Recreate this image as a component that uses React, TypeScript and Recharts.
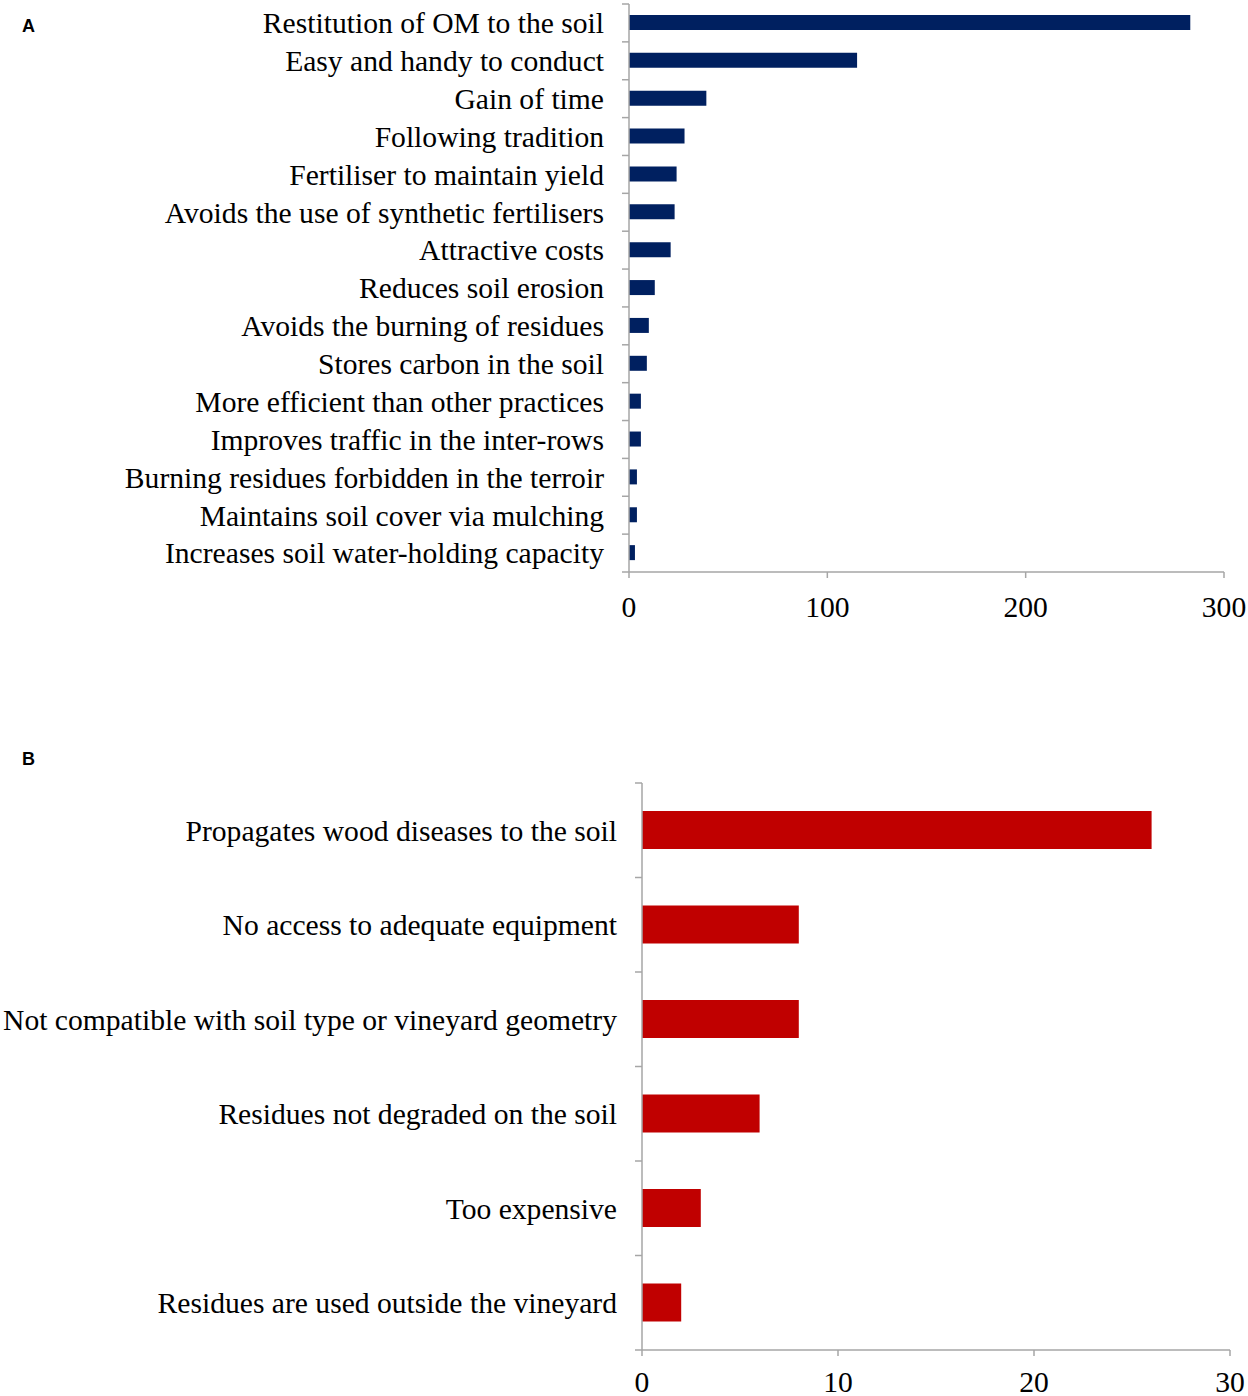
import React from "react";
import { Bar, BarChart, XAxis, YAxis } from "recharts";

const reasonsFor = [
  "Restitution of OM to the soil",
  "Easy and handy to conduct",
  "Gain of time",
  "Following tradition",
  "Fertiliser to maintain yield",
  "Avoids the use of synthetic fertilisers",
  "Attractive costs",
  "Reduces soil erosion",
  "Avoids the burning of residues",
  "Stores carbon in the soil",
  "More efficient than other practices",
  "Improves traffic in the inter-rows",
  "Burning residues forbidden in the terroir",
  "Maintains soil cover via mulching",
  "Increases soil water-holding capacity",
];
const countsFor = [283, 115, 39, 28, 24, 23, 21, 13, 10, 9, 6, 6, 4, 4, 3];
const ticksA = [0, 100, 200, 300];

const reasonsAgainst = [
  "Propagates wood diseases to the soil",
  "No access to adequate equipment",
  "Not compatible with soil type or vineyard geometry",
  "Residues not degraded on the soil",
  "Too expensive",
  "Residues are used outside the vineyard",
];
const countsAgainst = [26, 8, 8, 6, 3, 2];
const ticksB = [0, 10, 20, 30];

const serif = '"Liberation Serif", "Times New Roman", serif';
const axisGray = "#a6a6a6";
const labelSize = 29.6;

const dataA = reasonsFor.map((name, i) => ({ name, value: countsFor[i] }));
const dataB = reasonsAgainst.map((name, i) => ({ name, value: countsAgainst[i] }));

// category tick: label at band centre, tick marks at band boundaries (Excel style)
function makeCategoryTick(band: number, count: number) {
  return function CategoryTick(props: any) {
    const { x, y, payload, index } = props;
    const axisX = x + 25;
    return (
      <g>
        <line x1={axisX - 7} x2={axisX} y1={y - band / 2} y2={y - band / 2} stroke={axisGray} strokeWidth={1.5} />
        {index === count - 1 && (
          <line x1={axisX - 7} x2={axisX} y1={y + band / 2} y2={y + band / 2} stroke={axisGray} strokeWidth={1.5} />
        )}
        <text x={x} y={y} dy="0.35em" textAnchor="end" fill="#000" fontSize={labelSize} fontFamily={serif}>
          {payload.value}
        </text>
      </g>
    );
  };
}

const plotHA = 568;
const plotHB = 567;

export default function App() {
  return (
    <div style={{ position: "absolute", left: 0, top: 0, width: 1248, height: 1396, background: "#fff" }}>
      <div style={{ position: "absolute", left: 22, top: 16, fontFamily: '"Liberation Sans", Arial, sans-serif', fontWeight: "bold", fontSize: 18 }}>
        A
      </div>
      <div style={{ position: "absolute", left: 22, top: 749, fontFamily: '"Liberation Sans", Arial, sans-serif', fontWeight: "bold", fontSize: 18 }}>
        B
      </div>

      <div style={{ position: "absolute", left: 0, top: 0 }}>
        <BarChart
          width={1248}
          height={4 + plotHA + 56}
          data={dataA}
          layout="vertical"
          margin={{ top: 4, right: 24, bottom: 0, left: 0 }}
        >
          <XAxis
            type="number"
            domain={[0, 300]}
            ticks={ticksA}
            height={56}
            stroke={axisGray}
            strokeWidth={1.5}
            tickSize={6}
            tickMargin={18}
            tick={{ fill: "#000", fontSize: labelSize, fontFamily: serif }}
          />
          <YAxis
            type="category"
            dataKey="name"
            width={629}
            stroke={axisGray}
            strokeWidth={1.5}
            tickLine={false}
            tickSize={0}
            tickMargin={25}
            interval={0}
            tick={makeCategoryTick(plotHA / reasonsFor.length, reasonsFor.length)}
          />
          <Bar dataKey="value" fill="#002060" barSize={15} isAnimationActive={false} />
        </BarChart>
      </div>

      <div style={{ position: "absolute", left: 0, top: 700 }}>
        <BarChart
          width={1248}
          height={83 + plotHB + 46}
          data={dataB}
          layout="vertical"
          margin={{ top: 83, right: 18, bottom: 0, left: 0 }}
        >
          <XAxis
            type="number"
            domain={[0, 30]}
            ticks={ticksB}
            height={46}
            stroke={axisGray}
            strokeWidth={1.5}
            tickSize={6}
            tickMargin={15}
            tick={{ fill: "#000", fontSize: labelSize, fontFamily: serif }}
          />
          <YAxis
            type="category"
            dataKey="name"
            width={642}
            stroke={axisGray}
            strokeWidth={1.5}
            tickLine={false}
            tickSize={0}
            tickMargin={25}
            interval={0}
            tick={makeCategoryTick(plotHB / reasonsAgainst.length, reasonsAgainst.length)}
          />
          <Bar dataKey="value" fill="#c00000" barSize={38} isAnimationActive={false} />
        </BarChart>
      </div>
    </div>
  );
}
